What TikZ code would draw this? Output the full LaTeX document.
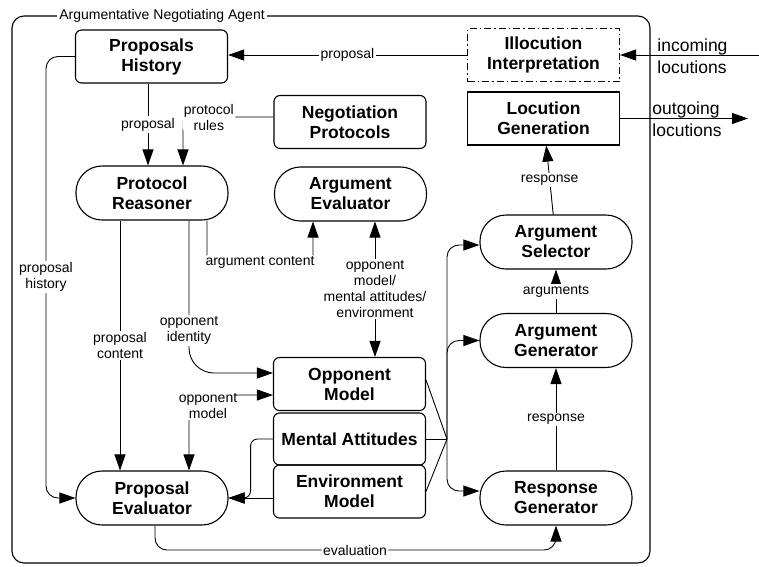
\documentclass[tikz,border=0pt]{standalone}
\usepackage{fontspec}
\setmainfont{Liberation Sans}
\usetikzlibrary{arrows.meta}
\tikzset{>={Triangle[length=16pt,width=11pt]}}
\tikzset{
  block/.style = {draw, line width=1.1pt, rounded corners=6pt, minimum width=152pt,
    minimum height=53pt, align=center, inner sep=2pt,
    font=\fontsize{17.5}{20}\selectfont\bfseries},
  pill/.style = {block, rounded corners=26pt, minimum height=54pt},
  plainblock/.style = {block, sharp corners},
  dashblock/.style = {plainblock, dash pattern=on 7pt off 3pt on 1.5pt off 3pt},
  lbl/.style = {fill=white, inner sep=1.5pt, align=center,
    font=\fontsize{14}{16}\selectfont},
  extlbl/.style = {inner sep=0pt, align=left, font=\fontsize{17.5}{22}\selectfont}
}

\begin{document}
\begin{tikzpicture}[x=1pt, y=-1pt, line width=0.9pt]
  \useasboundingbox (0,0) rectangle (759,566);
  % agent frame
  \draw[line width=1.1pt, rounded corners=12pt] (12,16) rectangle (650,563);
  \node[lbl, inner sep=2pt] (title) at (162,16) {Argumentative Negotiating Agent};
  % components
  \node[block] (hist) at (151.5,56.5) {Proposals\\History};
  \node[dashblock] (illoc) at (543.5,55) {Illocution\\Interpretation};
  \node[plainblock] (locgen) at (543.5,118.5) {Locution\\Generation};
  \node[block] (protos) at (350,122) {Negotiation\\Protocols};
  \node[pill] (reasoner) at (152,193) {Protocol\\Reasoner};
  \node[pill] (argeval) at (350.5,194) {Argument\\Evaluator};
  \node[pill] (argsel) at (556,242) {Argument\\Selector};
  \node[pill] (arggen) at (556,340.5) {Argument\\Generator};
  \node[pill] (respgen) at (556,498) {Response\\Generator};
  \node[block] (oppmodel) at (349.5,384) {Opponent\\Model};
  \node[block, minimum height=52pt] (mental) at (349.5,439) {Mental Attitudes};
  \node[block] (environ) at (349.5,491.5) {Environment\\Model};
  \node[pill] (propeval) at (152,498) {Proposal\\Evaluator};
  % locutions in and out
  \coordinate (inlet) at (759,55);
  \coordinate (outlet) at (748,118.5);
  \draw[->] (inlet) -- (illoc.east);
  \node[extlbl, anchor=west] (incoming) at (657,56) {incoming\\locutions};
  \draw[->] (locgen.east) -- (outlet);
  \node[extlbl, anchor=west] (outgoing) at (652,119) {outgoing\\locutions};
  % arrows
  \draw[->] (illoc.west) -- node[lbl] {proposal} (illoc.west -| hist.east);
  \draw[->] ([xshift=-3.5pt]hist.south) -- node[lbl] {proposal} ([xshift=-4pt]reasoner.north);
  \draw[->, rounded corners=4pt] ([yshift=5pt]protos.west) -| node[lbl, pos=0.5, anchor=west, xshift=-1pt] {protocol\\rules} ([xshift=31pt]reasoner.north);
  \draw[->] ([xshift=-32pt]reasoner.south) -- node[lbl] {proposal\\content} ([xshift=-32pt]propeval.north);
  \draw[->, rounded corners=25pt] ([xshift=37pt]reasoner.south) |- node[lbl, pos=0.36] {opponent\\identity} ([yshift=11pt]oppmodel.west);
  \draw[->, rounded corners=6pt] ([xshift=55pt]reasoner.south) |- (260,262) node[lbl] (argcontent) {argument content} -| ([xshift=-37.5pt]argeval.south);
  \draw[<->] ([xshift=24.5pt]argeval.south) -- node[lbl] {opponent\\model/\\mental attitudes/\\environment} ([xshift=25.5pt]oppmodel.north);
  \draw[->, rounded corners=12pt] (hist.west) -| (46,277) node[lbl] {proposal\\history} |- (propeval.west);
  \draw[<->, rounded corners=10pt] ([xshift=37pt]propeval.north) |- node[lbl, pos=0.5, xshift=19pt, yshift=-11pt] {opponent\\model} ([yshift=-11pt]oppmodel.west);
  % models to generators
  \coordinate (merge) at (447,439);
  \draw ([yshift=4pt]oppmodel.east) -- (merge);
  \draw (mental.east) -- (merge);
  \draw (environ.east) -- (merge);
  \draw[->, rounded corners=12pt] (merge) |- ([yshift=-3pt]argsel.west);
  \draw[->, rounded corners=12pt] (merge) |- (arggen.west);
  \draw[->, rounded corners=12pt] (merge) |- ([yshift=7pt]respgen.west);
  \draw[->] (respgen) -- node[lbl] {response} (arggen);
  \draw[->] (arggen) -- node[lbl] {arguments} (argsel);
  \draw[->] (argsel) -- node[lbl] {response} (locgen);
  % into the proposal evaluator
  \draw[->, rounded corners=7pt] (mental.west) -| ([xshift=22pt]propeval.east) -- (propeval.east);
  \draw[->] (environ.west |- propeval.east) -- (propeval.east);
  \draw[->, rounded corners=12pt] ([xshift=3pt]propeval.south) |- (355,550) node[lbl] {evaluation} -| (respgen.south);
\end{tikzpicture}
\end{document}
